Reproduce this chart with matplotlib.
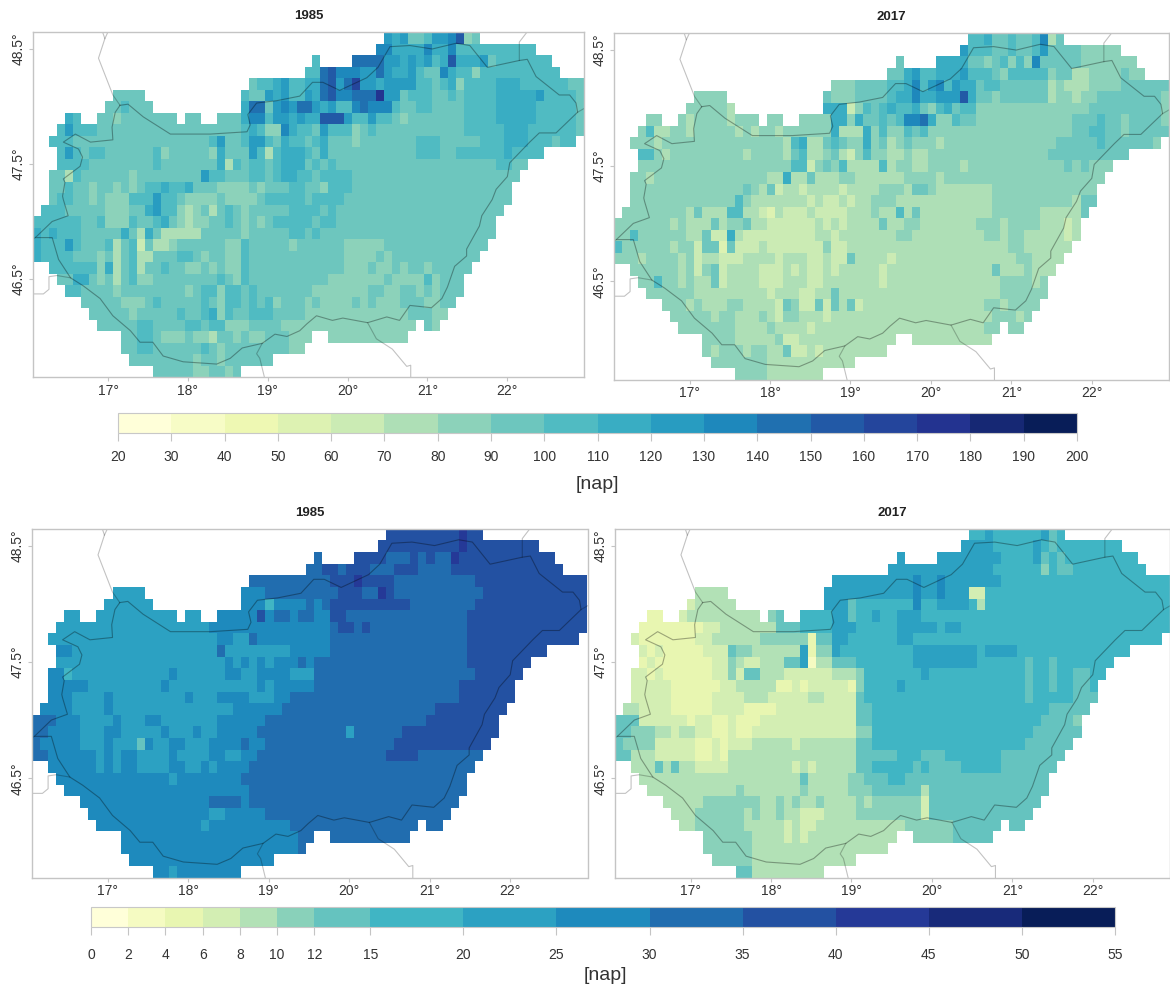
import matplotlib
matplotlib.use("Agg")
import matplotlib.pyplot as plt
import numpy as np
from matplotlib.cm import ScalarMappable
from matplotlib.colors import BoundaryNorm, ListedColormap

plt.rcParams["font.family"] = ["Liberation Sans", "DejaVu Sans"]

FIG_W, FIG_H = 1170, 986
N_ROWS, N_COLS = 30, 69
LON_LEFT, LAT_TOP = 16.06, 48.645
CLASS_CODES = "abcdefghijklmnopqr"

TOP_BREAKS = [20, 30, 40, 50, 60, 70, 80, 90, 100, 110, 120, 130, 140, 150, 160, 170, 180, 190, 200]
BOTTOM_BREAKS = [0, 2, 4, 6, 8, 10, 12, 15, 20, 25, 30, 35, 40, 45, 50, 55]
LON_TICKS = [17, 18, 19, 20, 21, 22]
LAT_TICKS = [46.5, 47.5, 48.5]

# which grid cells hold data, one string per row
CELL_SPANS = [
    "44-55", "43-62", "35-35 40-64", "34-65", "27-68", "10-13 26-68", "9-14 26-68",
    "4-5 8-17 19-20 23-68", "3-68", "2-67", "3-63", "3-61", "2-60", "2-59", "2-59",
    "1-58", "0-57", "0-57", "0-56", "0-55", "2-54", "3-53", "4-53", "6-52", "7-51",
    "8-47 49-50", "11-34 37-46", "11-33", "12-29", "15-25",
]

# class letters per row: "a-b:x" is a run of class x, "a:xyz" starts at column a
TOP_1985_DEFAULT = "h"
TOP_1985 = [
    "44:kjkhhikklngh",
    "43:ll 45-48:j 49:l 50-51:j 52:l 53-62:i",
    "35:i 40-43:m 44-45:k 46:j 47:k 48:j 49:k 50:i 51:j 52:n 53-55:j 56:k 58-64:i",
    "34-35:i 36:mn 38-40:l 41-42:k 43:m 44:k 45-46:j 47:k 48:i 51:l 52:j 53-54:i 55:g 56-65:i",
    "27:hiijkii 34-35:j 36:m 37:n 38:k 39:m 40:o 41-42:k 43:j 44-47:k 48-49:i 51:i 52:j 53:g 54-57:i 58-60:j 61-66:i",
    "26:i 29:k 30:j 31:k 32-33:i 34:k 35:j 36:m 37:n 38-39:l 40-42:m 43:p 44-45:k 47-49:i 52:i 54-57:i 58-62:j 63:k 64-67:i",
    "11:i 26:j 27-28:m 30:k 31:l 32:k 33-34:m 35:k 36:j 37:k 38-39:i 40:l 41:m 42-44:l 45:i 48-49:i 54-57:i 58-62:j 63-67:i",
    "4:ji 10:g 26:j 27-28:l 29:i 30-31:k 32:j 33:k 34-35:j 36-38:n 39:k 40-41:i 42:k 43-44:i 46:g 54-57:i 58-62:j 63-67:i",
    "3:ikiii 26:i 27:j 28:i 29-30:g 31:l 32:j 33-34:i 36:k 37-39:i 40:g 42:i 54-58:i 59-61:j 62-67:i",
    "2:iii 22:ik 26:i 27-28:k 29:i 31:j 32:i 33:i 35:ij 40:g 48-50:i 56-58:i 59-61:j 62-64:i 66-67:i",
    "3:ikihii 15:ig 22:gj 27:ki 29:f 30:ijjj 34:i 36:j 48-50:i 53-58:i 59:j 60-63:i",
    "3:iiii 15:i 23:jfi 27:ii 30:ijjj 35:i 37:i 58-59:i",
    "4:fi 12:g 21:kii 27:ii 30:ijji 34:i 36-39:i",
    "4:i 7:g 10:g 12:g 14-15:i 16:j 17-18:i 19:j 23-26:g 28:g 32-33:i 36:g 37-39:i",
    "3:ii 7:g 9-11:g 12-14:i 15:k 16-17:i 19-22:g 24-27:g 29-33:i 35-38:i",
    "1-3:i 9-11:g 14:jk 16-17:i 18:gfgh 22:fh 24:i 26:g 32-35:i 37:i",
    "0-5:i 8:i 9-11:g 12:i 15:ij 18:gfgg 24:i 26:g 28:g 30-34:i 36-37:i",
    "0:jij 3-5:i 11:j 13:f 14:j 16-20:f 26:g 32-33:i 35:i",
    "0:j 1-3:i 4:k 5:i 9:i 10:f 12:i 13:e 15-16:f 17:g 24-25:g 26:i 32:g 39-43:g",
    "0:j 1-4:i 8:g 10:f 12:i 13-14:f 18-19:i 21:g 24-25:g 26:i 39-42:g 44:g",
    "2-7:i 8:g 9:j 10:f 12:i 13:f 16:i 19-20:g 22:g 24-25:g 26:i 39-41:g 43-44:g 46:g 49:g",
    "5-6:j 8:g 10:f 12:i 13-14:g 23:i 25:g 26:i 37-43:g 45-48:g 49:i 50:g",
    "4-5:i 10:g 19:g 21-22:i 23:g 24-25:i 27:i 35-41:g 44-45:g 48:g 50:g",
    "11-13:g 15:i 21:i 23:g 24-25:i 27:i 29:i 30:g 34:g 36-39:g 41:g 43-45:g 49-50:g",
    "12:g 18:i 21:i 22:j 23:g 24:i 27-29:i 34-46:g 50-51:g",
    "13-14:i 19-20:i 22-23:i 24-26:g 31-47:g 50:g",
    "13-14:i 16-18:g 20-21:g 22:f 25:g 27-28:g 32-34:g 37-46:g",
    "13-14:i 21:i 23:g 32-33:g",
    "20:g 23:g",
    "20-21:g 24:g",
]

TOP_2017_DEFAULT = "g"
TOP_2017 = [
    "44-45:i 46:j 47-48:h 49:i 50-51:h 52:i 53:l 54:f 55:h",
    "43:k 44-46:i 47-48:h 49:i 50-51:h 52:i 53:k 54-57:h",
    "35:h 40-43:j 44-45:h 47:h 48:i 50:i 52:l 53-57:h",
    "34-35:h 36:jk 38-39:i 40-42:j 43:k 44-46:i 47:h 49-53:i 55-56:h 57-58:f 63:h",
    "30-33:h 34-35:i 36:jlikl 41:i 42:k 43-44:j 45:h 46-47:i 48-53:h 54:f 56-58:f 63-68:h",
    "10-13:g 26:h 30-33:h 34:ij 36:j 37:l 38-39:j 40-42:k 43:n 44:j 45-46:h 48-53:h 54:f 57:f 60-67:h",
    "14:f 26-28:j 29:e 31:i 32:h 33:i 34:j 35-36:i 37:j 38:h 40:i 41:j 42:h 43-44:i 59-67:h",
    "9:f 14:f 27-28:j 30:j 31-32:h 33:i 34:h 35:i 36-37:l 38:m 39:j 42:i 43-44:h 57-59:h 60:i 61-62:h 64-67:h",
    "4:i 5-6:f 9:f 15:f 17:f 20:f 27:j 28-30:f 31:j 33:i 36:i 37:h 38:i 57-58:h 59-60:i 61-62:h 64-68:h",
    "5:f 21:fij 24-25:f 26:h 27:ih 31:j 33:h 34:f 36:h 40:f 55-59:h 60:i 61-66:h",
    "3-4:i 6:f 16:f 21:f 22:h 23:i 24-25:f 27:h 28:f 29:e 31:i 34-35:f 37-38:f 54-63:h",
    "22-23:i 24:e 26:h 28:i 29-32:f 33:i 34:f 37-38:f 43:f 56:h 58:h",
    "4:f 19-20:f 21:j 22-23:f 24:h 25-27:f 30-33:f 34-35:f 40:f",
    "16:h 18:f 19:h 20:e 21-22:f 23:e 24-27:f 28:e 29-32:f 36:f 37-38:h 40-46:f",
    "15:i 17-23:f 24:e 25:f 26-27:e 28:f 29:e 30-31:f 35-46:f 57:f 58-59:h",
    "9:f 10:h 11-13:f 14-15:i 16-17:f 18:e 19:d 20:f 21-23:e 24:f 25-28:e 29-31:f 33-34:f 35:i 36:f 37:h 38-46:f 53-57:f 58:h",
    "7:f 9-11:f 12:hf 16:h 17-18:f 19-24:e 25:f 26:e 27:f 28:e 29-32:f 33:h 34-35:f 38-44:f 48:f 53-55:f 56:e 57:f",
    "2:i 9-10:f 11:h 12-13:e 14:j 15:f 16-24:e 25-26:f 27:e 28-34:f 37-45:f 48:f 51-55:f 56:e 57:f",
    "0:i 7:f 10:e 11-12:h 13:d 14:h 15-17:e 18:f 19-25:e 27-28:e 29-48:f 51-56:f",
    "3:f 8:f 10:e 11-12:f 13-15:e 16-19:f 20:e 21-23:f 24-25:e 26:f 27-28:e 29:h 30-33:f 34:e 35-49:f 52-55:f",
    "8:f 10:e 12:he 14-17:f 18-20:e 21:f 22:e 23:f 24-25:e 26:f 27:e 28-32:f 33:e 34-46:f 47:h 48-50:f 52-54:f",
    "5:i 8:f 10-11:f 12:h 13:e 14-17:f 18-20:e 21-23:f 24-25:e 26-32:f 33:e 34-47:f 52:f",
    "10-18:f 19:e 20-22:f 23-24:e 25-26:f 27:h 28-47:f",
    "9:f 11-13:f 16-19:f 20:e 21:h 23-24:e 25:h 26:e 27:h 28:f 29:h 30:e 31-45:f 48:f",
    "12:f 15-17:f 19:f 20:e 23-25:f 26:e 27-46:f 50:f",
    "15-18:f 20-23:f 24:e 25-45:f",
    "15-19:f 21-22:e 23-34:f 37-46:f",
    "12:f 16:f 19-20:f 21:h 22-23:e 24:f 25:e 26-33:f",
    "19-29:f",
    "19-25:f",
]

BOTTOM_1985_DEFAULT = "j"
BOTTOM_1985 = [
    "44-55:l 53:m",
    "43-62:l 53:m",
    "35:k 40-43:l 44-46:k 47:l 48:k 49:l 50-51:k 52:m 53-64:l",
    "34-35:k 36-37:l 38:k 39-41:l 42-44:k 45-47:l 48-51:k 52-65:l",
    "27-36:k 37-39:l 40:m 41-44:l 45-54:k 55-68:l",
    "10-13:i 29-37:k 38-40:l 41-42:k 43:m 44:l 45-55:k 56-68:l",
    "9-14:i 29:h 34:k 36:k 37-46:l 47-54:k 55-68:l",
    "4-5:i 8-17:i 19-20:i 28:l 30-31:k 33-34:k 37-38:l 39-53:k 54-68:l",
    "3-21:i 37:k 38-39:l 40:k 41:l 42-53:k 54-68:l",
    "2-22:i 25-26:i 27:k 37-53:k 54-67:l",
    "5-22:i 23:k 24-31:i 37-53:k 54-63:l",
    "3-23:i 25:i 27:i 29:i 33:k 35-53:k 54-61:l",
    "4:h 5-16:i 18-23:i 26-27:i 32-34:i 35-54:k 55-60:l",
    "7-15:i 17-27:i 29:i 35-52:k 53-59:l",
    "5-8:i 10-18:i 20-22:i 27-29:i 32-52:k 53-59:l",
    "5-8:i 10-24:i 31-49:k 50-58:l",
    "0-2:k 6-9:i 11-13:i 16-22:i 29-48:k 49-57:l",
    "0-1:k 6-8:i 11-15:i 17-19:i 21-22:i 28-38:k 39:i 40-45:k 46-57:l",
    "0:k 6-8:i 10-12:i 13:g 15-16:i 19-21:i 26:k 29-44:k 45-56:l",
    "0-1:k 8:i 10:i 13-16:i 18-21:i 24-25:i 28-43:k 44-47:l 48-55:k",
    "8:i 10:i 13-16:i 19-20:i 22:i 27-54:k",
    "17:i 26-53:k",
    "27-53:k",
    "22-25:k 27-52:k",
    "22-23:i 29-51:k",
    "21:i 32-50:k",
    "33-34:k 37-46:k",
    "33:k",
    "",
    "17:i",
]

BOTTOM_2017_DEFAULT = "h"
BOTTOM_2017 = [
    "46:i 53:i 54:g",
    "43-46:i 52:i 54:g",
    "35:i 40-47:i 52:i 53:g 55:g",
    "34-46:i 53:f 55-56:g",
    "27-36:i 37:j 38-39:i 40:j 41-47:i",
    "10-13:e 26-36:i 37:j 38-39:i 40:j 41-43:i 44-45:d",
    "9:d 10-14:e 26-28:i 29:g 37:j 40-43:i 45:e",
    "4-5:c 8:d 9-17:e 19:f 20:g 27-28:i 29:g 32:i 35-37:i",
    "3-10:c 11-12:d 13-19:e 20-22:g 27-29:i 35-39:i 41-42:i",
    "2:d 3-9:c 10-11:d 12-17:e 18-23:f 24:c 25-26:g 27-28:i 35-36:i",
    "3:d 4:c 5:d 6-10:c 11-13:d 14:g 15-16:f 17-22:e 23:i 24:c 25-26:f 27:i 37-44:i 46-49:i",
    "3:c 4:d 5-11:c 12-13:d 14:f 15:e 16-17:d 18-20:e 21-22:g 23:i 24:b 25-26:e 27-29:g 37-44:i 51:g 54:g",
    "2-3:d 4:c 5:d 6-11:c 12-13:d 14:f 15:d 16-17:g 18-20:e 21-26:d 27-29:e 30:f 38:i 51:g 54:g 57-58:g",
    "2-6:d 7-12:c 13-14:d 15-19:e 20-21:c 22:d 23:c 24-28:d 29:c 30:f 35:i 51:g 54:g 57-58:g",
    "2-6:d 7-11:c 12-15:d 16-18:e 19-23:d 24-25:e 26-29:d 30:g 51:g 57-59:g",
    "1-2:e 3-6:d 7-11:c 12-15:d 16-19:c 20-29:d 30-31:g 54-58:g",
    "0-2:g 3-8:d 9:c 10-11:d 12-13:c 14:d 15-17:c 18-29:d 30-31:g 53-56:g 57:f",
    "0-1:g 2-4:f 5-6:e 7:d 8-9:e 10-11:d 12-13:c 14:d 15-16:c 17-29:d 30-31:f 52-57:g",
    "0:g 1-4:f 5-9:d 10-11:c 12:d 13:c 14-16:d 17-21:e 22:d 23-29:e 30-31:g 51-56:g",
    "0-1:g 2-4:e 5-9:d 10-11:c 12:d 13:c 14-29:e 30-34:g 38-40:g 48-55:g",
    "2-4:e 5:g 6:e 7:g 8-9:e 10-13:d 14-21:e 22:d 23:e 24:d 25-29:e 30-31:g 37:g 39-42:g 48-54:g",
    "3-22:e 23:g 24-28:e 29-30:f 31-33:g 36-53:g",
    "4-14:e 15:f 16-22:e 23:f 24-28:e 29-31:f 32-37:g 38:e 39-53:g",
    "6-10:e 11-17:f 18-19:e 20:f 21:e 22:f 23-24:e 25:f 26-29:e 30:f 31:e 32-37:f 38:d 39-52:g",
    "7-9:e 10-15:f 16:e 17:f 18-19:e 20:f 21-22:e 23-25:d 26-29:e 30-37:f 38:d 39-51:g",
    "8-9:e 10-15:f 16-20:e 21:d 22:e 23-24:d 25-35:e 36-41:f 42-47:g 49-50:g",
    "11-16:f 17-20:e 21:d 22:e 23:d 24-34:e 37-41:f 42-46:g",
    "11-16:f 17-33:e",
    "12-16:f 17-29:e",
    "15-16:g 17-25:e",
]

# Hungary outline and the neighbouring border stubs, degrees
BORDER_LON = [
    17.15, 17.25, 17.44, 17.78, 18.28, 18.74, 18.78, 18.75, 18.86, 19.11, 19.40, 19.56, 19.69, 19.90,
    20.24, 20.38, 20.53, 20.78, 21.06, 21.36, 21.53, 21.75, 22.15, 22.25, 22.36, 22.65, 22.78, 22.86,
    22.88, 22.61, 22.40, 22.28, 22.03, 22.00, 21.86, 21.81, 21.68, 21.65, 21.49, 21.49, 21.34, 21.25,
    21.18, 21.05, 20.78, 20.65, 20.49, 20.25, 19.94, 19.81, 19.61, 19.49, 19.40, 19.24, 19.09, 18.93,
    18.68, 18.53, 18.36, 17.94, 17.69, 17.56, 17.40, 17.28, 17.06, 16.90, 16.69, 16.53, 16.38, 16.30,
    16.09, 16.30, 16.50, 16.44, 16.43, 16.46, 16.44, 16.65, 16.68, 16.63, 16.44, 16.59, 16.78, 17.06,
    17.05, 17.09, 17.15,
]
BORDER_LAT = [
    48.01, 48.02, 47.91, 47.76, 47.76, 47.78, 47.84, 47.93, 48.03, 48.05, 48.09, 48.21, 48.21, 48.14,
    48.25, 48.34, 48.52, 48.53, 48.50, 48.55, 48.53, 48.34, 48.40, 48.41, 48.26, 48.10, 48.10, 48.03,
    47.95, 47.77, 47.77, 47.69, 47.51, 47.39, 47.28, 47.19, 47.05, 46.96, 46.76, 46.70, 46.61, 46.43,
    46.33, 46.25, 46.27, 46.14, 46.17, 46.12, 46.16, 46.14, 46.18, 46.11, 46.05, 46.00, 46.02, 45.94,
    45.90, 45.81, 45.76, 45.78, 45.83, 45.95, 45.95, 46.05, 46.18, 46.33, 46.44, 46.51, 46.67, 46.86,
    46.86, 47.00, 47.05, 47.19, 47.22, 47.34, 47.37, 47.48, 47.56, 47.63, 47.69, 47.76, 47.69, 47.71,
    47.82, 47.95, 48.01,
]
STUBS = [
    ([17.15, 17.06, 16.88, 16.96, 16.93], [48.01, 48.10, 48.42, 48.59, 48.65]),
    ([16.96, 17.00], [48.59, 48.65]),
    ([16.53, 16.36, 16.26, 16.26, 16.19, 16.06], [46.51, 46.53, 46.52, 46.41, 46.37, 46.37]),
    ([16.09, 16.04], [46.86, 46.84]),
    ([20.25, 20.36, 20.56, 20.74, 20.79, 20.79], [46.12, 45.98, 45.89, 45.74, 45.75, 45.64]),
    ([18.93, 18.86, 18.90, 18.96], [45.94, 45.85, 45.81, 45.64]),
    ([22.15, 22.15, 22.25], [48.40, 48.56, 48.65]),
    ([22.88, 22.98], [47.95, 47.99]),
]

GREY = "#c4c4c4"
TEXT = "#333333"


def px_axes(fig, left, top, right, bottom):
    # pixel box to figure fractions
    return fig.add_axes([left / FIG_W, 1 - bottom / FIG_H, (right - left) / FIG_W, (bottom - top) / FIG_H])


def class_map(n):
    base = plt.get_cmap("YlGnBu")
    return ListedColormap([base(i / (n - 1)) for i in range(n)])


def build_grid(rows, default, breaks):
    breaks = np.asarray(breaks, dtype=float)
    mids = (breaks[:-1] + breaks[1:]) / 2
    grid = np.full((N_ROWS, N_COLS), mids[CLASS_CODES.index(default)])
    for r, text in enumerate(rows):
        for token in text.split():
            where, codes = token.split(":")
            if "-" in where:
                a, b = map(int, where.split("-"))
                grid[r, a:b + 1] = mids[CLASS_CODES.index(codes)]
            else:
                a = int(where)
                for k, code in enumerate(codes):
                    grid[r, a + k] = mids[CLASS_CODES.index(code)]
    mask = np.ones((N_ROWS, N_COLS), dtype=bool)
    for r, text in enumerate(CELL_SPANS):
        for span in text.split():
            a, b = map(int, span.split("-"))
            mask[r, a:b + 1] = False
    return np.ma.masked_array(grid, mask)


def draw_map(ax, grid, title, cmap, norm):
    lon_edges = LON_LEFT + 0.1 * np.arange(N_COLS + 1)
    lat_edges = LAT_TOP - 0.1 * np.arange(N_ROWS + 1)
    ax.pcolormesh(lon_edges, lat_edges, grid, cmap=cmap, norm=norm, linewidth=0, antialiased=False)
    ax.plot(BORDER_LON, BORDER_LAT, color="black", alpha=0.33, lw=0.8)
    for lons, lats in STUBS:
        ax.plot(lons, lats, color="black", alpha=0.24, lw=0.8)
    ax.set_xlim(lon_edges[0], lon_edges[-1])
    ax.set_ylim(lat_edges[-1], lat_edges[0])

    ax.set_xticks(LON_TICKS)
    ax.set_xticklabels([f"{v}°" for v in LON_TICKS], fontsize=10, color=TEXT)
    ax.set_yticks(LAT_TICKS)
    ax.set_yticklabels([f"{v}°" for v in LAT_TICKS], fontsize=10, color=TEXT, rotation=90, va="center")
    ax.tick_params(axis="x", length=3, width=0.8, color=GREY, pad=1.5)
    ax.tick_params(axis="y", length=3, width=0.8, color=GREY, pad=2.5)
    for spine in ax.spines.values():
        spine.set_color(GREY)
        spine.set_linewidth(1)
    ax.set_title(title, fontsize=9.5, fontweight="bold", color="#222222", pad=9.5)


def draw_colorbar(fig, box, breaks, cmap, norm, label_y, label_x, pad):
    cax = px_axes(fig, *box)
    cb = fig.colorbar(
        ScalarMappable(norm=norm, cmap=cmap), cax=cax, orientation="horizontal",
        spacing="proportional", ticks=breaks,
    )
    cb.ax.set_xticklabels([str(v) for v in breaks], fontsize=10, color=TEXT)
    cb.ax.tick_params(axis="x", length=6, width=0.8, color=GREY, pad=pad)
    cb.outline.set_edgecolor("#c8c8c8")
    cb.outline.set_linewidth(0.8)
    fig.text(label_x / FIG_W, 1 - label_y / FIG_H, "[nap]", fontsize=14, color=TEXT, ha="center", va="center")


def main():
    fig = plt.figure(figsize=(FIG_W / 100, FIG_H / 100), dpi=100)

    top_cmap = class_map(len(TOP_BREAKS) - 1)
    top_norm = BoundaryNorm(TOP_BREAKS, len(TOP_BREAKS) - 1)
    bottom_cmap = class_map(len(BOTTOM_BREAKS) - 1)
    bottom_norm = BoundaryNorm(BOTTOM_BREAKS, len(BOTTOM_BREAKS) - 1)

    draw_map(px_axes(fig, 33, 32.3, 584, 377.3), build_grid(TOP_1985, TOP_1985_DEFAULT, TOP_BREAKS),
             "1985", top_cmap, top_norm)
    draw_map(px_axes(fig, 614, 33.3, 1169, 380), build_grid(TOP_2017, TOP_2017_DEFAULT, TOP_BREAKS),
             "2017", top_cmap, top_norm)
    draw_map(px_axes(fig, 32, 528.7, 587.5, 877.7), build_grid(BOTTOM_1985, BOTTOM_1985_DEFAULT, BOTTOM_BREAKS),
             "1985", bottom_cmap, bottom_norm)
    draw_map(px_axes(fig, 615, 528.7, 1170, 877.7), build_grid(BOTTOM_2017, BOTTOM_2017_DEFAULT, BOTTOM_BREAKS),
             "2017", bottom_cmap, bottom_norm)

    draw_colorbar(fig, (118, 413, 1077, 433), TOP_BREAKS, top_cmap, top_norm, 485, 597, 6)
    draw_colorbar(fig, (91, 907.3, 1115, 927.3), BOTTOM_BREAKS, bottom_cmap, bottom_norm, 975, 605, 9)

    fig.savefig("out.png", dpi=100)
    plt.close(fig)


if __name__ == "__main__":
    main()
